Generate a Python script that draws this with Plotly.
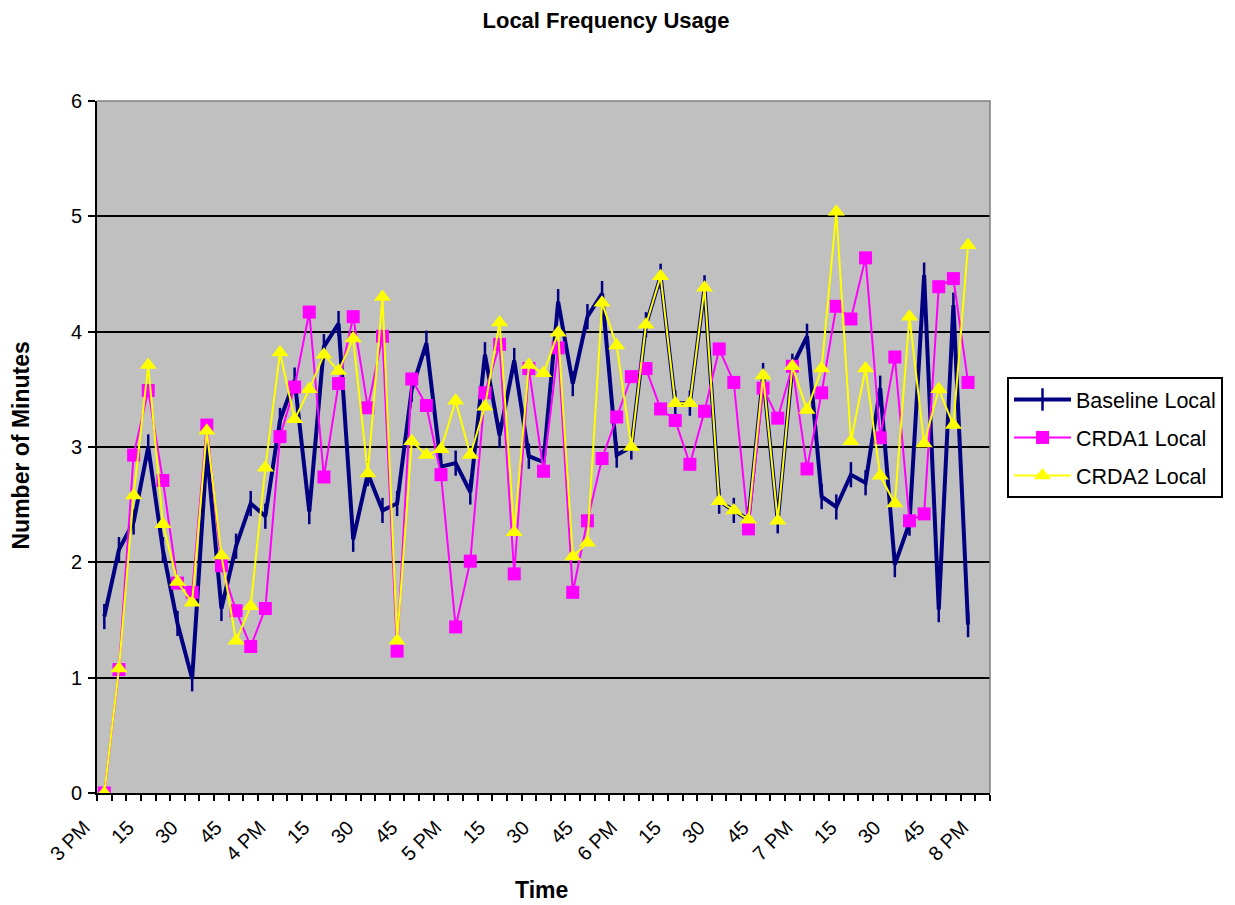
import plotly.graph_objects as go

# ---- data -------------------------------------------------------------
# category slots: 3:00 PM .. 8:00 PM every 5 minutes (61 slots), labels every 15 min
tick_labels = ["3 PM", "15", "30", "45", "4 PM", "15", "30", "45", "5 PM", "15", "30", "45",
               "6 PM", "15", "30", "45", "7 PM", "15", "30", "45", "8 PM"]
n_slots = 61
slots_per_label = 3

baseline = [1.53, 2.11, 2.35, 3.00, 2.11, 1.47, 0.99, 2.97, 1.60, 2.14,
            2.51, 2.40, 3.23, 3.58, 2.44, 3.87, 4.07, 2.20, 2.77, 2.45,
            2.51, 3.50, 3.90, 2.83, 2.86, 2.61, 3.80, 3.10, 3.75, 2.92,
            2.87, 4.26, 3.55, 4.13, 4.33, 2.93, 3.00, 4.06, 4.48, 3.38,
            3.38, 4.38, 2.53, 2.45, 2.37, 3.62, 2.36, 3.70, 3.96, 2.57,
            2.48, 2.76, 2.69, 3.51, 1.98, 2.34, 4.49, 1.59, 4.23, 1.46]

crda1 = [0.00, 1.07, 2.93, 3.49, 2.71, 1.82, 1.74, 3.19, 1.97, 1.58,
         1.27, 1.60, 3.09, 3.52, 4.17, 2.74, 3.55, 4.13, 3.34, 3.96,
         1.23, 3.59, 3.36, 2.76, 1.44, 2.01, 3.47, 3.89, 1.90, 3.68,
         2.79, 3.86, 1.74, 2.36, 2.90, 3.26, 3.61, 3.68, 3.33, 3.23,
         2.85, 3.31, 3.85, 3.56, 2.29, 3.51, 3.25, 3.70, 2.81, 3.47,
         4.22, 4.11, 4.64, 3.08, 3.78, 2.36, 2.42, 4.39, 4.46, 3.56]

crda2 = [0.00, 1.08, 2.58, 3.71, 2.33, 1.83, 1.65, 3.14, 2.06, 1.32,
         1.62, 2.82, 3.82, 3.24, 3.50, 3.80, 3.66, 3.94, 2.77, 4.30,
         1.32, 3.05, 2.93, 2.98, 3.40, 2.93, 3.35, 4.08, 2.26, 3.71,
         3.64, 3.99, 2.05, 2.17, 4.25, 3.88, 3.00, 4.06, 4.48, 3.38,
         3.38, 4.38, 2.53, 2.45, 2.37, 3.62, 2.36, 3.70, 3.32, 3.68,
         5.04, 3.05, 3.68, 2.75, 2.51, 4.13, 3.03, 3.50, 3.19, 4.75]

y_ticks = [0, 1, 2, 3, 4, 5, 6]

# ---- figure -----------------------------------------------------------
FONT = "Liberation Sans, Arial, sans-serif"
x_idx = list(range(len(baseline)))
tickvals = [slots_per_label * i for i in range(len(tick_labels))]

fig = go.Figure()
fig.add_trace(go.Scatter(
    x=x_idx, y=baseline, name="Baseline Local", mode="lines+markers",
    legendgroup="g1",
    line=dict(color="#000080", width=4),
    marker=dict(symbol="line-ns", size=18, color="#000080",
                line=dict(color="#000080", width=2.5)),
))
fig.add_trace(go.Scatter(
    x=x_idx, y=crda1, name="CRDA1 Local", mode="lines+markers",
    legendgroup="g2",
    line=dict(color="#FF00FF", width=2),
    marker=dict(symbol="square", size=13, color="#FF00FF", line=dict(width=0)),
))
fig.add_trace(go.Scatter(
    x=x_idx, y=crda2, name="CRDA2 Local", mode="lines+markers",
    legendgroup="g3",
    line=dict(color="#FFFF00", width=2),
    marker=dict(symbol="triangle-up", size=15, color="#FFFF00", line=dict(width=0)),
))

L, R, T, B = 97, 990, 101, 793
W, H = 1235, 905

fig.update_layout(
    width=W, height=H, autosize=False,
    margin=dict(l=L, r=W - R, t=T, b=H - B, pad=0),
    paper_bgcolor="white", plot_bgcolor="#C0C0C0",
    font=dict(family=FONT, color="black"),
    title=dict(text="<b>Local Frequency Usage</b>", xref="container", yref="container",
               x=606 / W, y=1 - 20 / H, xanchor="center", yanchor="middle",
               font=dict(family=FONT, size=22, color="black")),
    xaxis=dict(range=[-0.5, n_slots - 0.5], tickmode="array", tickvals=tickvals,
               ticktext=tick_labels, tickangle=-45, ticks="", showgrid=False,
               zeroline=False, showline=True, linecolor="black", linewidth=2,
               ticklabelshift=-20, ticklabelstandoff=13,
               tickfont=dict(family=FONT, size=20, color="black"),
               minor=dict(tickmode="linear", tick0=-0.5, dtick=1, ticks="outside",
                          ticklen=6, tickwidth=2, tickcolor="black", showgrid=False)),
    yaxis=dict(range=[0, 6], tickmode="array", tickvals=y_ticks,
               ticks="outside", ticklen=7, tickwidth=2, tickcolor="black",
               ticklabelstandoff=2,
               showgrid=True, gridcolor="black", gridwidth=2, zeroline=False,
               showline=True, linecolor="black", linewidth=2,
               tickfont=dict(family=FONT, size=20, color="black")),
    legend=dict(x=(1007 - L) / (R - L), y=(B - 377) / (B - T), xanchor="left", yanchor="top",
                bgcolor="white", bordercolor="black", borderwidth=2,
                font=dict(family=FONT, size=21.5, color="black"),
                itemwidth=57, tracegroupgap=7, traceorder="grouped"),
    showlegend=True,
    shapes=[dict(type="path", xref="paper", yref="paper", path="M 0,1 L 1,1 L 1,0",
                 line=dict(color="#808080", width=1.5), layer="above")],
    annotations=[
        dict(text="<b>Number of Minutes</b>", xref="paper", yref="paper",
             x=(20.5 - L) / (R - L), y=(B - 446) / (B - T), textangle=-90,
             showarrow=False, xanchor="center", yanchor="middle",
             font=dict(family=FONT, size=23, color="black")),
        dict(text="<b>Time</b>", xref="paper", yref="paper",
             x=(541 - L) / (R - L), y=(B - 890) / (B - T),
             showarrow=False, xanchor="center", yanchor="middle",
             font=dict(family=FONT, size=23, color="black")),
    ],
)

fig.write_html("out.html")
